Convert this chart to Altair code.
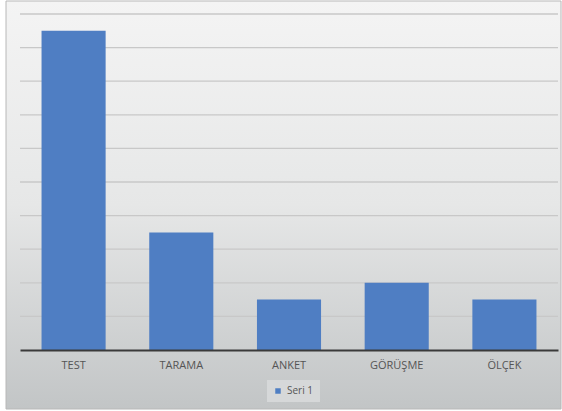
import altair as alt
import pandas as pd

categories = ["TEST", "TARAMA", "ANKET", "GÖRÜŞME", "ÖLÇEK"]
values = [9.5, 3.5, 1.5, 2.0, 1.5]
series = ["Seri 1"] * len(categories)
grid_levels = [1, 2, 3, 4, 5, 6, 7, 8, 9, 10]

df = pd.DataFrame({"kategori": categories, "deger": values, "seri": series})
grid_df = pd.DataFrame({"deger": grid_levels})

W, H = 538, 336

bg = alt.Chart(pd.DataFrame({"a": [0]})).mark_rect(
    clip=False,
    fill=alt.Gradient(
        gradient="linear",
        stops=[alt.GradientStop(color="#f4f4f4", offset=0),
               alt.GradientStop(color="#e6e7e7", offset=0.5),
               alt.GradientStop(color="#c2c5c6", offset=1)],
        x1=0, x2=0, y1=0, y2=1,
    ),
    stroke="#b8b8b8", strokeWidth=1,
).encode(
    x=alt.value(-14), x2=alt.value(W + 3),
    y=alt.value(-13), y2=alt.value(H + 59),
)

yscale = alt.Scale(domain=[0, 10], nice=False)

grid = alt.Chart(grid_df).mark_rule(color="#c8c8c8", strokeWidth=1.3).encode(
    y=alt.Y("deger:Q", scale=yscale, title=None,
            axis=alt.Axis(labels=False, ticks=False, domain=False, grid=False)),
    x=alt.value(0), x2=alt.value(W),
)

bars = alt.Chart(df).mark_bar(color="#4f7ec3").encode(
    x=alt.X("kategori:N", sort=categories, title=None,
            scale=alt.Scale(paddingInner=0.405, paddingOuter=0.2),
            axis=alt.Axis(labelAngle=0, ticks=False, domainColor="#3a3a3a",
                          domainWidth=2, labelColor="#555555", labelFont="Open Sans",
                          labelFontSize=11, labelPadding=9, grid=False, zindex=1)),
    y=alt.Y("deger:Q", title=None, scale=yscale),
    fill=alt.Fill("seri:N", scale=alt.Scale(range=["#4f7ec3"]),
                  legend=alt.Legend(title=None, orient="none", legendX=247, legendY=366,
                                    symbolType="square", symbolSize=30,
                                    labelFont="Open Sans", labelFontSize=10,
                                    labelColor="#555555", fillColor="#d6d8d9",
                                    padding=6)),
)

chart = alt.layer(bg, grid, bars).properties(
    width=W, height=H,
    padding={"left": 20, "top": 14, "right": 4, "bottom": 61},
    autosize=alt.AutoSizeParams(type="none"),
    background="#ffffff",
).configure_view(stroke=None)

chart.save("out.html", embed_options={"renderer": "svg", "actions": False})
